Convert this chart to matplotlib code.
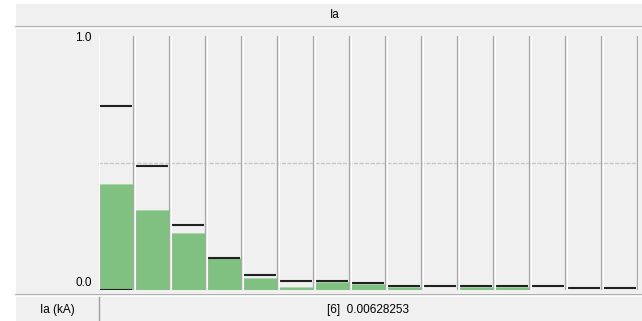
import numpy as np
import matplotlib
matplotlib.use('Agg')
import matplotlib.pyplot as plt
from matplotlib.patches import Rectangle
from matplotlib.lines import Line2D

plt.rcParams['font.family'] = ['Liberation Sans', 'DejaVu Sans']

title = 'Ia'
unit_label = 'Ia (kA)'
readout = '[6]  0.00628253'
yticks = [0.0, 1.0]
bars = [0.417, 0.315, 0.223, 0.125, 0.046, 0.013, 0.033, 0.022, 0.013, 0.0,
        0.013, 0.013, 0.0, 0.0, 0.0]
peaks = [0.724, 0.488, 0.257, 0.127, 0.059, 0.037, 0.037, 0.026, 0.017, 0.017,
         0.017, 0.017, 0.017, 0.007, 0.007]
lows = [0.0] + [np.nan] * 14

W, H = 642, 321
fig = plt.figure(figsize=(W / 100, H / 100), dpi=100)
fig.patch.set_facecolor('white')

def px(x0, y0, x1, y1):
    return [x0 / W, 1 - y1 / H, (x1 - x0) / W, (y1 - y0) / H]

bg = '#f0f0f0'
fs = 8.5
# panel backgrounds
fig.patches.append(Rectangle((16 / W, 0), 1, 1 - 4 / H, transform=fig.transFigure,
                             facecolor=bg, edgecolor='none', zorder=-5))
for yy, c in [(26.5, '#a0a0a0'), (27.5, 'white'), (294.5, '#a0a0a0'), (295.5, 'white')]:
    fig.add_artist(Line2D([16 / W, 1], [1 - yy / H] * 2, color=c, lw=1.2,
                          transform=fig.transFigure))
fig.add_artist(Line2D([98.5 / W] * 2, [1 - 297 / H, 0], color='#a0a0a0', lw=1,
                      transform=fig.transFigure))
fig.text(335 / W, 1 - 15 / H, title, ha='center', va='center', fontsize=fs)
fig.text(57 / W, 1 - 310 / H, unit_label, ha='center', va='center', fontsize=fs)
fig.text(368 / W, 1 - 310 / H, readout, ha='center', va='center', fontsize=fs)

ax = fig.add_axes(px(98, 36, 638, 290))
ax.set_zorder(2)
ax.set_facecolor(bg)
n = len(bars)
x = np.arange(n)
ax.set_xlim(-0.5, n - 0.5)
ax.set_ylim(0, 1)
for s in ax.spines.values():
    s.set_visible(False)
ax.set_xticks([])
ax.set_yticks([])

ax.axhline(0.5, color='#c8c8c8', lw=1, ls=(0, (3, 1)), zorder=1)
ax.bar(x, bars, width=0.94, color='#80c080', edgecolor='#a8d8a8', lw=0.6, zorder=2)
ax.hlines(peaks, x - 0.45, x + 0.45, color='#202020', lw=1.5, zorder=3)
ax.hlines(lows, x - 0.45, x + 0.45, color='#202020', lw=1.5, zorder=3)

for k in range(n + 1):
    b = k - 0.5
    if k > 0:
        ax.axvline(b - 0.02, color='#a8a8a8', lw=0.9, zorder=4)
    ax.axvline(b + 0.025, color='white', lw=0.8, zorder=4)

for v in yticks:
    fig.text(92 / W, 1 - (283 - v * 245) / H, f'{v:.1f}', ha='right', va='center',
             fontsize=fs)

fig.savefig('out.png', dpi=100, facecolor=fig.get_facecolor())
